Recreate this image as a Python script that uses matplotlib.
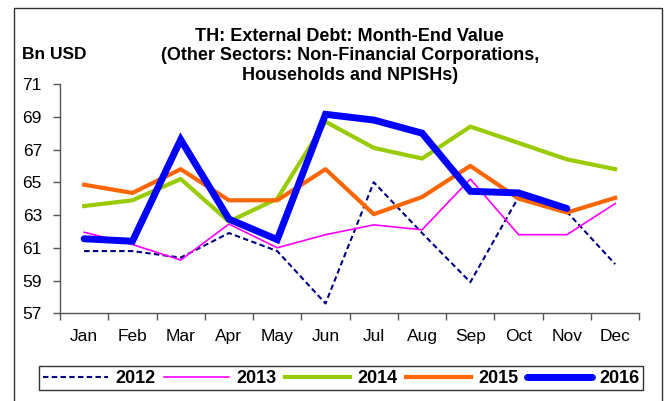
import numpy as np
import matplotlib
matplotlib.use("Agg")
import matplotlib.pyplot as plt
from matplotlib.patches import Rectangle

plt.rcParams['font.family'] = ['Liberation Sans', 'DejaVu Sans']

# Month-end external debt, other sectors (bn USD)
months = ["Jan", "Feb", "Mar", "Apr", "May", "Jun",
          "Jul", "Aug", "Sep", "Oct", "Nov", "Dec"]
debt_2012 = [60.8, 60.8, 60.4, 61.9, 60.8, 57.6, 65.0, 61.9, 58.9, 64.1, 63.2, 60.0]
debt_2013 = [61.95, 61.2, 60.25, 62.45, 61.0, 61.8, 62.4, 62.1, 65.2, 61.8, 61.8, 63.7]
debt_2014 = [63.55, 63.9, 65.2, 62.6, 64.0, 68.7, 67.1, 66.45, 68.4, 67.4, 66.4, 65.8]
debt_2015 = [64.85, 64.35, 65.8, 63.9, 63.9, 65.8, 63.05, 64.1, 66.0, 64.0, 63.15, 64.05]
debt_2016 = [61.55, 61.4, 67.6, 62.75, 61.5, 69.15, 68.8, 68.0, 64.45, 64.35, 63.4]
y_ticks = [57, 59, 61, 63, 65, 67, 69, 71]

fig = plt.figure(figsize=(6.69, 4.01), dpi=100)
ax = fig.add_axes([0.0897, 0.2187, 0.8659, 0.5718])

x = np.arange(len(months))
ax.plot(x, debt_2012, color="#000080", lw=1.5, ls=(0, (2.6, 1.6)), label="2012")
ax.plot(x, debt_2013, color="#FF00FF", lw=1.2, label="2013")
ax.plot(x, debt_2014, color="#99CC00", lw=3, label="2014")
ax.plot(x, debt_2015, color="#FF6600", lw=3, label="2015")
ax.plot(x[:len(debt_2016)], debt_2016, color="#0000FF", lw=5, label="2016",
        solid_capstyle="round", solid_joinstyle="miter")

ax.set_xlim(-0.5, len(months) - 0.5)
ax.set_ylim(57, 71)
ax.set_yticks(y_ticks)
ax.set_xticks(x)
ax.set_xticklabels(months)
ax.set_xticks(np.arange(-0.5, len(months)), minor=True)
ax.tick_params(axis="x", which="major", length=0, pad=11, labelsize=12.5)
ax.tick_params(axis="x", which="minor", length=5, width=1, color="#555555")
ax.tick_params(axis="y", length=5, width=1, color="#555555", labelsize=12.5, pad=8)

for side in ("top", "right"):
    ax.spines[side].set_visible(False)
for side in ("left", "bottom"):
    ax.spines[side].set_color("#555555")
    ax.spines[side].set_linewidth(1)

fig.text(0.523, 0.861, "TH: External Debt: Month-End Value\n"
         "(Other Sectors: Non-Financial Corporations,\n"
         "Households and NPISHs)",
         ha="center", va="center", fontsize=13, fontweight="bold", linespacing=1.2)
fig.text(0.033, 0.864, "Bn USD", ha="left", va="center", fontsize=12.5, fontweight="bold")

leg = fig.legend(loc="center", bbox_to_anchor=(0.045, 0.025, 0.93, 0.063),
                 mode="expand", ncol=5, frameon=True, fancybox=False,
                 prop={"weight": "bold", "size": 13}, handlelength=3.6,
                 handletextpad=0.4, borderpad=0.2, columnspacing=0.8)
leg.get_frame().set_edgecolor("black")
leg.get_frame().set_linewidth(1)

# outer border
fig.patches.append(Rectangle((0.0202, -0.05), 0.969, 1.03, transform=fig.transFigure,
                             fill=False, edgecolor="#333333", lw=1))

fig.savefig("out.png", dpi=100)
